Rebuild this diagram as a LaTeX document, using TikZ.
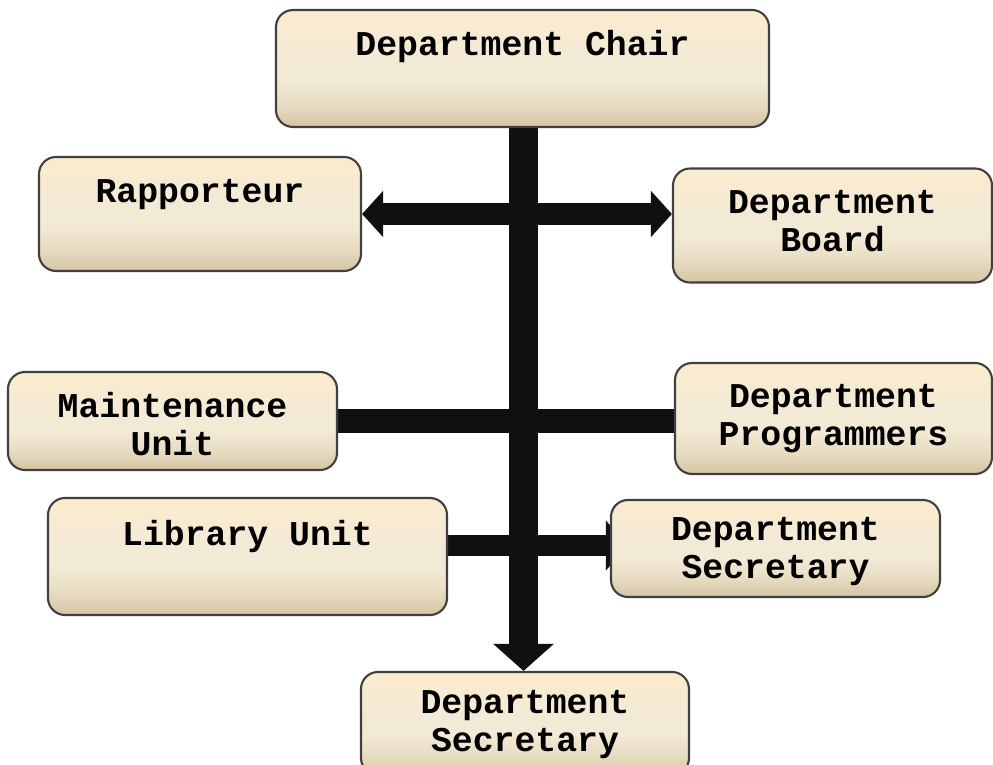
\documentclass[tikz,border=0pt]{standalone}
\usepackage{fontspec}
\usepackage{tikz}
\usetikzlibrary{arrows.meta, positioning, backgrounds}
\newfontfamily\unitfont{Liberation Mono}
\definecolor{unittop}{HTML}{FCEBCD}
\definecolor{unitmid}{HTML}{F3EAD6}
\definecolor{unitlow}{HTML}{E8DDC3}
\definecolor{unitbot}{HTML}{D4C4A2}
\definecolor{bar}{HTML}{101010}
\pgfdeclareverticalshading{unitshade}{100bp}{color(0bp)=(unitbot); color(25bp)=(unitbot);
  color(35bp)=(unitlow); color(45bp)=(unitmid); color(55bp)=(unitmid);
  color(75bp)=(unittop); color(100bp)=(unittop)}

\begin{document}
\begin{tikzpicture}[
    unit/.style={draw=black!75, line width=0.6pt, rounded corners=0.17cm,
      shading=unitshade, inner sep=0pt},
    lbl/.style={inner sep=0pt, align=center,
      font=\unitfont\bfseries\fontsize{9.9}{10.8}\selectfont},
    link/.style={draw=bar, line cap=butt}]
    \useasboundingbox (0, 0) rectangle (9.93, 7.65);

    \node [unit, minimum width=4.93cm, minimum height=1.17cm] (chair) at (5.225, 6.965) {};
    \node [unit, minimum width=3.22cm, minimum height=1.14cm] (rap) at (2.00, 5.51) {};
    \node [unit, minimum width=3.19cm, minimum height=1.14cm] (board) at (8.325, 5.395) {};
    \node [unit, minimum width=3.29cm, minimum height=0.98cm] (maint) at (1.725, 3.44) {};
    \node [unit, minimum width=3.17cm, minimum height=1.11cm] (prog) at (8.335, 3.465) {};
    \node [unit, minimum width=3.99cm, minimum height=1.17cm] (lib) at (2.475, 2.085) {};
    \node [unit, minimum width=3.29cm, minimum height=0.97cm] (sec1) at (7.755, 2.165) {};
    \node [unit, minimum width=3.28cm, minimum height=1.03cm] (sec2) at (5.25, 0.415) {};

    \node [lbl, below=0.21 of chair.north] (chairtxt) {Department Chair};
    \node [lbl, below=0.23 of rap.north] (raptxt) {Rapporteur};
    \node [lbl, below=0.22 of board.north] (boardtxt) {Department\\Board};
    \node [lbl, below=0.21 of maint.north] (mainttxt) {Maintenance\\Unit};
    \node [lbl, below=0.22 of prog.north] (progtxt) {Department\\Programmers};
    \node [lbl, below=0.23 of lib.north] (libtxt) {Library Unit};
    \node [lbl, below=0.18 of sec1.north] (sec1txt) {Department\\Secretary};
    \node [lbl, below=0.19 of sec2.north] (sec2txt) {Department\\Secretary};

    \begin{scope}[on background layer]
      \draw [link, line width=0.22cm,
        {Triangle[width=0.45cm, length=0.21cm]}-{Triangle[width=0.45cm, length=0.21cm]}]
        (rap.east) -- (rap.east -| board.west);
      \draw [link, line width=0.29cm, -{Triangle[width=0.59cm, length=0.27cm]}]
        ([xshift=0.01cm]chair.south) -- ([xshift=0.01cm]chair.south |- sec2.north);
      \draw [link, line width=0.24cm] (maint.east) -- (maint.east -| prog.west);
      \draw [link, line width=0.21cm, -{Triangle[width=0.49cm, length=0.21cm]}]
        ([yshift=0.03cm]lib.east |- sec1.west) -- ([xshift=0.17cm, yshift=0.03cm]sec1.west);
    \end{scope}
  \end{tikzpicture}
\end{document}
